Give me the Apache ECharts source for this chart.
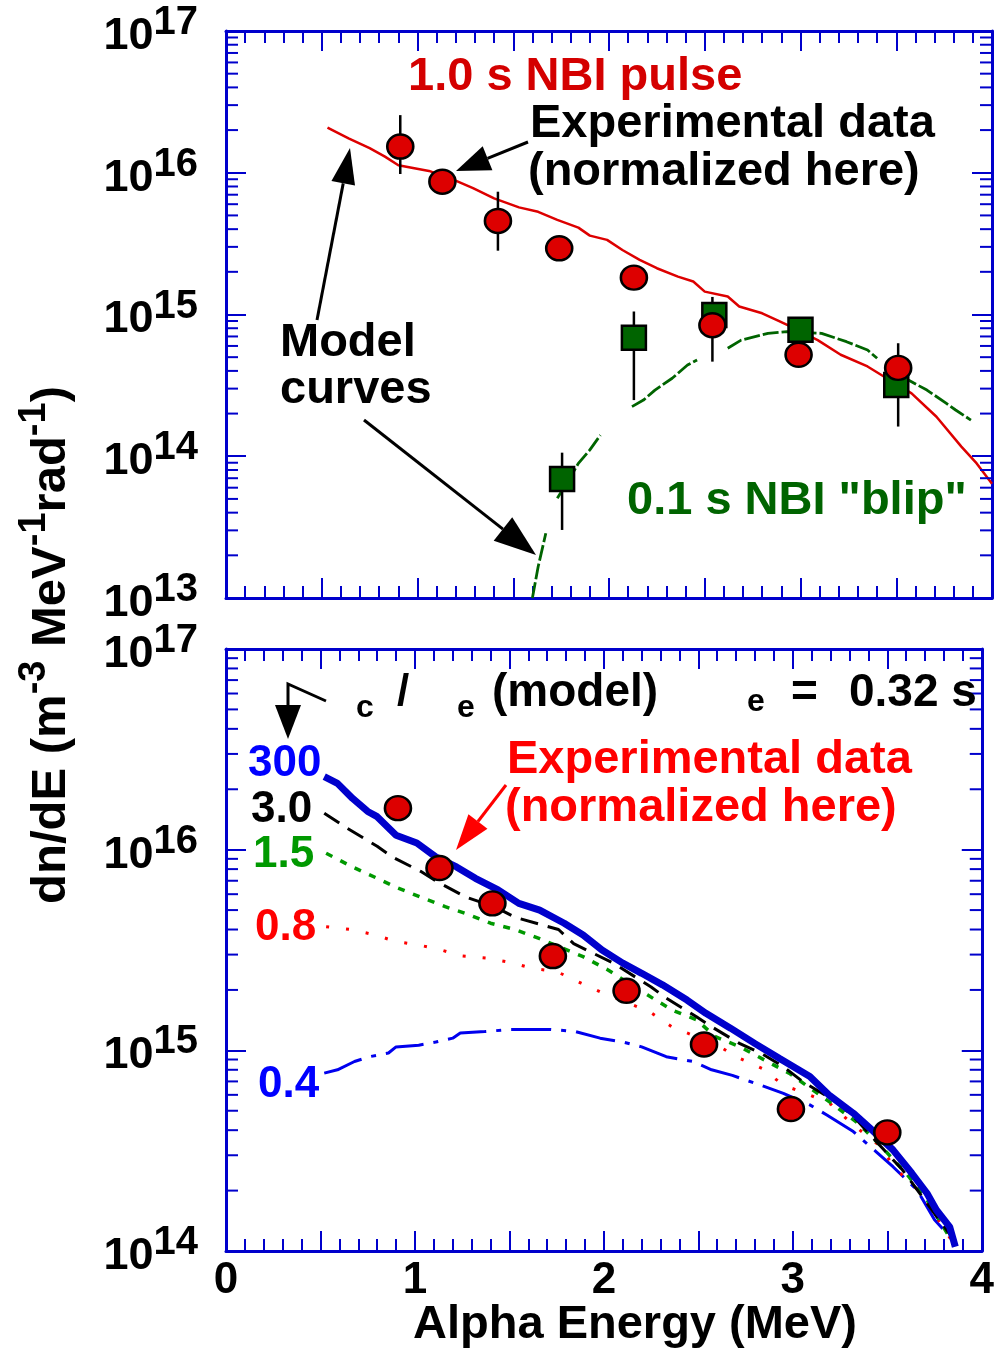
<!DOCTYPE html>
<html>
<head>
<meta charset="utf-8">
<title>Alpha energy spectra</title>
<script src="https://cdn.jsdelivr.net/npm/echarts@6/dist/echarts.min.js"></script>
<style>
  html, body { margin: 0; padding: 0; background: #fff; }
  #chart { width: 997px; height: 1349px; }
</style>
</head>
<body>
<div id="chart"></div>
<script>
// ---- top panel: 1.0 s NBI pulse vs 0.1 s NBI blip ----
const pulseE = [0.53, 0.64, 0.75, 0.83, 0.90, 1.06, 1.19, 1.29, 1.40, 1.53, 1.63, 1.73, 1.84, 1.90, 1.99, 2.07, 2.16, 2.25, 2.36, 2.44, 2.50, 2.62, 2.68, 2.80, 2.88, 2.95, 3.09, 3.21, 3.35, 3.45, 3.58, 3.71, 3.84, 3.92, 4.0]
const pulseN = [2.08e16, 1.75e16, 1.49e16, 1.30e16, 1.13e16, 1.03e16, 8.9e15, 7.8e15, 6.6e15, 5.7e15, 5.3e15, 4.65e15, 4.1e15, 3.6e15, 3.36e15, 2.85e15, 2.43e15, 2.12e15, 1.85e15, 1.71e15, 1.45e15, 1.34e15, 1.14e15, 1.02e15, 9.1e14, 8.2e14, 6.6e14, 5.2e14, 4.3e14, 3.55e14, 2.78e14, 1.9e14, 1.17e14, 8.9e13, 6.4e13]

// null = gap in the broken green curve
const blipE = [1.60, 1.63, 1.67, 1.70, 1.73, 1.79, 1.84, 1.90, 1.955, 2.04, 2.12, 2.18, 2.24, 2.33, 2.41, 2.46, 2.54, 2.62, 2.69, 2.83, 2.93, 3.11, 3.24, 3.35, 3.40, 3.46, 3.53, 3.66, 3.76, 3.81, 3.89]
const blipN = [1.0e13, 1.66e13, 2.86e13, null, 5.05e13, 6.8e13, 8.9e13, 1.11e14, 1.41e14, null, 2.24e14, 2.49e14, 2.93e14, 3.55e14, 4.4e14, 4.78e14, null, 5.78e14, 6.6e14, 7.36e14, 7.57e14, 7.36e14, 6.43e14, 5.62e14, 4.91e14, null, 3.65e14, 2.93e14, 2.37e14, 2.12e14, 1.8e14]

const pulseDataE = [0.91, 1.13, 1.42, 1.74, 2.13, 2.54, 2.99, 3.51]
const pulseDataN = [1.53e16, 8.65e15, 4.57e15, 2.93e15, 1.82e15, 8.4e14, 5.2e14, 4.2e14]
const blipDataE = [1.755, 2.13, 2.55, 3.00, 3.50]
const blipDataN = [6.9e13, 6.85e14, 9.9e14, 7.8e14, 3.18e14]
const errE = [0.91, 1.42, 1.755, 2.13, 2.54, 3.51]
const errLo = [9.8e15, 2.82e15, 3.02e13, 2.49e14, 4.65e14, 1.62e14]
const errHi = [2.55e16, 7.35e15, 1.06e14, 1.05e15, 1.33e15, 6.27e14]

// ---- bottom panel: model curves for tau_c / tau_e ----
const m300E = [0.52, 0.59, 0.67, 0.75, 0.80, 0.90, 1.01, 1.11, 1.22, 1.32, 1.44, 1.55, 1.66, 1.79, 1.89, 1.99, 2.10, 2.20, 2.31, 2.44, 2.54, 2.67, 2.80, 2.93, 3.09, 3.19, 3.32, 3.42, 3.53, 3.63, 3.71, 3.76, 3.83, 3.86]
const m300N = [2.31e16, 2.14e16, 1.80e16, 1.55e16, 1.46e16, 1.18e16, 1.08e16, 9.2e15, 8.2e15, 7.2e15, 6.3e15, 5.4e15, 5.0e15, 4.3e15, 3.76e15, 3.16e15, 2.72e15, 2.42e15, 2.12e15, 1.78e15, 1.53e15, 1.29e15, 1.08e15, 9.1e14, 7.4e14, 6.0e14, 4.86e14, 4.0e14, 3.19e14, 2.44e14, 1.94e14, 1.6e14, 1.32e14, 1.05e14]
const m30E = [0.52, 0.64, 0.80, 0.88, 1.03, 1.12, 1.27, 1.42, 1.53, 1.76, 1.84, 2.05, 2.25, 2.33, 2.49, 2.57, 2.72, 2.83, 2.95, 3.06, 3.21, 3.32, 3.45, 3.58, 3.71, 3.84]
const m30N = [1.52e16, 1.28e16, 1.04e16, 9.2e15, 7.8e15, 6.9e15, 5.8e15, 5.2e15, 4.6e15, 4.0e15, 3.4e15, 2.72e15, 2.07e15, 1.82e15, 1.47e15, 1.31e15, 1.08e15, 9.7e14, 8.3e14, 6.9e14, 5.7e14, 4.7e14, 3.44e14, 2.54e14, 1.73e14, 1.18e14]
const m15E = [0.53, 0.67, 0.80, 0.90, 1.03, 1.16, 1.27, 1.40, 1.53, 1.66, 1.89, 2.02, 2.23, 2.36, 2.49, 2.59, 2.72, 2.85, 2.98, 3.09, 3.21, 3.35, 3.47, 3.60, 3.71, 3.84]
const m15N = [9.6e15, 8.2e15, 7.2e15, 6.5e15, 5.8e15, 5.2e15, 4.8e15, 4.3e15, 4.0e15, 3.6e15, 2.93e15, 2.52e15, 1.89e15, 1.59e15, 1.42e15, 1.17e15, 1.04e15, 8.95e14, 7.7e14, 6.5e14, 5.4e14, 4.3e14, 3.3e14, 2.44e14, 1.8e14, 1.13e14]
const m08E = [0.53, 0.66, 0.79, 0.90, 1.02, 1.14, 1.25, 1.38, 1.51, 1.62, 1.75, 1.88, 1.98, 2.11, 2.24, 2.36, 2.47, 2.60, 2.72, 2.84, 2.95, 3.07, 3.20, 3.32, 3.45, 3.55, 3.68, 3.77, 3.85]
const m08N = [4.13e15, 4.0e15, 3.76e15, 3.48e15, 3.35e15, 3.16e15, 2.95e15, 2.88e15, 2.74e15, 2.56e15, 2.47e15, 2.16e15, 1.96e15, 1.75e15, 1.56e15, 1.31e15, 1.19e15, 1.06e15, 9.1e14, 8.1e14, 6.7e14, 6.1e14, 5.4e14, 4.25e14, 3.4e14, 2.54e14, 1.94e14, 1.43e14, 1.09e14]
const m04E = [0.52, 0.59, 0.68, 0.76, 0.86, 0.90, 1.02, 1.11, 1.20, 1.24, 1.37, 1.50, 1.72, 1.85, 1.98, 2.10, 2.20, 2.33, 2.47, 2.57, 2.68, 2.83, 2.95, 3.09, 3.18, 3.32, 3.44, 3.53, 3.66, 3.75, 3.80]
const m04N = [7.7e14, 8.0e14, 8.8e14, 9.3e14, 9.7e14, 1.04e15, 1.06e15, 1.10e15, 1.15e15, 1.22e15, 1.24e15, 1.27e15, 1.27e15, 1.24e15, 1.15e15, 1.10e15, 1.04e15, 9.3e14, 8.8e14, 8.0e14, 7.5e14, 6.7e14, 6.1e14, 5.35e14, 4.76e14, 3.94e14, 3.13e14, 2.63e14, 2.0e14, 1.43e14, 1.27e14]
const expE = [0.91, 1.13, 1.41, 1.73, 2.12, 2.53, 2.99, 3.50]
const expN = [1.61e16, 8.1e15, 5.4e15, 2.95e15, 1.98e15, 1.07e15, 5.1e14, 3.9e14]

const FONT = 'Liberation Sans, Arial, sans-serif'
const FRAME = '#0000cc'

function zip(xs, ys) {
  return xs.map(function (x, i) { return [x, ys[i] === null ? '-' : ys[i]] })
}

// 2..9 x 10^n positions for the minor ticks of the log axes
function minorTicks(lo, hi) {
  let out = []
  for (let n = lo; n < hi; n++) {
    for (let k = 2; k <= 9; k++) out.push([0, k * Math.pow(10, n)])
  }
  return out
}

function xAxisFor(grid, pos, labels) {
  return {
    type: 'value', gridIndex: grid, position: pos, min: 0, max: 4, interval: 0.5,
    axisLine: { show: true, onZero: false, lineStyle: { color: FRAME, width: 3 } },
    axisTick: { show: true, inside: true, length: 20, lineStyle: { color: FRAME, width: 2 } },
    minorTick: { show: true, splitNumber: 5, length: 12, lineStyle: { color: FRAME, width: 2 } },
    splitLine: { show: false },
    axisLabel: {
      show: labels, interval: 0, margin: 8, color: '#000', fontFamily: FONT, fontWeight: 'bold', fontSize: 44,
      alignMinLabel: 'center', alignMaxLabel: 'center',
      formatter: function (v) { return Math.abs(v - Math.round(v)) < 1e-9 ? String(Math.round(v)) : '' }
    }
  }
}

function logAxisFor(grid, pos, min, labels) {
  return {
    type: 'log', logBase: 10, gridIndex: grid, position: pos, min: min, max: 1e17,
    axisLine: { show: true, onZero: false, lineStyle: { color: FRAME, width: 3 } },
    axisTick: { show: true, inside: true, length: 20, lineStyle: { color: FRAME, width: 2 } },
    splitLine: { show: false },
    axisLabel: {
      show: labels, margin: 28,
      formatter: function (v) { return '{h|\u200b}{b|10}{s|' + Math.round(Math.log10(v)) + '}' },
      rich: {
        h: { fontSize: 10, lineHeight: 56 },
        b: { fontFamily: FONT, fontWeight: 'bold', fontSize: 45, color: '#000', verticalAlign: 'bottom', lineHeight: 45 },
        s: { fontFamily: FONT, fontWeight: 'bold', fontSize: 40, color: '#000', verticalAlign: 'top', lineHeight: 40 }
      }
    }
  }
}

function minorTickSeries(xi, yi, lo) {
  return {
    type: 'custom', xAxisIndex: xi, yAxisIndex: yi, z: 6, clip: false, silent: true,
    data: minorTicks(lo, 17),
    encode: { x: 0, y: 1 },
    renderItem: function (params, api) {
      const cs = params.coordSys
      const p = api.coord([api.value(0), api.value(1)])
      const st = { stroke: FRAME, lineWidth: 2 }
      return {
        type: 'group', children: [
          { type: 'line', shape: { x1: cs.x, y1: p[1], x2: cs.x + 12, y2: p[1] }, style: st },
          { type: 'line', shape: { x1: cs.x + cs.width - 12, y1: p[1], x2: cs.x + cs.width, y2: p[1] }, style: st }
        ]
      }
    }
  }
}

function txt(str, x, y, size, color) {
  return {
    type: 'text', x: x, y: y, z: 100, silent: true,
    style: { text: str, font: 'bold ' + size + 'px ' + FONT, fill: color, textAlign: 'left', textVerticalAlign: 'middle' }
  }
}

function arrow(x1, y1, x2, y2, len, w, color, lw) {
  const a = Math.atan2(y2 - y1, x2 - x1)
  const bx = x2 - len * Math.cos(a), by = y2 - len * Math.sin(a)
  const px = -Math.sin(a) * w / 2, py = Math.cos(a) * w / 2
  return [
    { type: 'line', z: 100, silent: true, shape: { x1: x1, y1: y1, x2: bx, y2: by }, style: { stroke: color, lineWidth: lw } },
    { type: 'polygon', z: 100, silent: true, shape: { points: [[x2, y2], [bx + px, by + py], [bx - px, by - py]] }, style: { fill: color } }
  ]
}

function errorBars(xi, yi, E, lo, hi) {
  return {
    type: 'custom', xAxisIndex: xi, yAxisIndex: yi, z: 3,
    data: E.map(function (e, i) { return [e, lo[i], hi[i]] }),
    encode: { x: 0, y: [1, 2] },
    renderItem: function (params, api) {
      const p1 = api.coord([api.value(0), api.value(1)])
      const p2 = api.coord([api.value(0), api.value(2)])
      return { type: 'line', shape: { x1: p1[0], y1: p1[1], x2: p2[0], y2: p2[1] }, style: { stroke: '#000', lineWidth: 2.5 } }
    }
  }
}

function curve(xi, yi, data, color, width, type) {
  return {
    type: 'line', xAxisIndex: xi, yAxisIndex: yi, data: data, showSymbol: false, connectNulls: false, z: 2,
    lineStyle: { color: color, width: width, type: type }
  }
}

let graphics = []
graphics.push(txt('1.0 s NBI pulse', 408, 77, 47, '#d40000'))
graphics.push(txt('Experimental data', 530, 124, 47, '#000'))
graphics.push(txt('(normalized here)', 528, 172, 47, '#000'))
graphics.push(txt('Model', 280, 343, 47, '#000'))
graphics.push(txt('curves', 280, 390, 47, '#000'))
graphics.push(txt('0.1 s NBI "blip"', 627, 501, 47, '#006400'))
graphics = graphics.concat(arrow(528, 142, 456, 171, 34, 26, '#000', 3))
graphics = graphics.concat(arrow(317, 320, 350, 148, 36, 24, '#000', 3))
graphics = graphics.concat(arrow(364, 420, 536, 555, 42, 30, '#000', 3))

graphics.push(txt('c', 356, 708, 32, '#000'))
graphics.push(txt('/', 397, 693, 44, '#000'))
graphics.push(txt('e', 457, 708, 32, '#000'))
graphics.push(txt('(model)', 492, 693, 46, '#000'))
graphics.push(txt('e', 747, 702, 32, '#000'))
graphics.push(txt('=', 791, 693, 46, '#000'))
graphics.push(txt('0.32 s', 849, 693, 46, '#000'))
graphics.push(txt('Experimental data', 507, 760, 47, '#ff0000'))
graphics.push(txt('(normalized here)', 505, 808, 47, '#ff0000'))
graphics.push(txt('300', 248, 764, 44, '#0000ff'))
graphics.push(txt('3.0', 251, 810, 44, '#000'))
graphics.push(txt('1.5', 253, 855, 44, '#009900'))
graphics.push(txt('0.8', 255, 928, 44, '#ff0000'))
graphics.push(txt('0.4', 258, 1085, 44, '#0000ff'))
graphics = graphics.concat(arrow(506, 785, 456, 850, 36, 24, '#ff0000', 3))
graphics.push({ type: 'polyline', z: 100, silent: true, shape: { points: [[326, 701], [288, 684], [288, 708]] }, style: { stroke: '#000', lineWidth: 3, fill: null } })
graphics.push({ type: 'polygon', z: 100, silent: true, shape: { points: [[288, 739], [275, 705], [301, 705]] }, style: { fill: '#000' } })

graphics.push({
  type: 'text', x: 635, y: 1325, z: 100, silent: true,
  style: { text: 'Alpha Energy (MeV)', font: 'bold 47px ' + FONT, fill: '#000', textAlign: 'center', textVerticalAlign: 'middle' }
})
graphics.push({
  type: 'text', x: 46, y: 645, rotation: Math.PI / 2, z: 100, silent: true,
  style: {
    text: '{h|\u200b}{m|dn/dE (m}{s|-3}{m| MeV}{s|-1}{m|rad}{s|-1}{m|)}',
    textAlign: 'center', textVerticalAlign: 'middle',
    rich: {
      h: { fontSize: 10, lineHeight: 60 },
      m: { fontFamily: FONT, fontWeight: 'bold', fontSize: 49, fill: '#000', verticalAlign: 'bottom', lineHeight: 48 },
      s: { fontFamily: FONT, fontWeight: 'bold', fontSize: 38, fill: '#000', verticalAlign: 'top', lineHeight: 38 }
    }
  }
})

const markerStyle = function (fill) {
  return { color: fill, opacity: 1, borderColor: '#000', borderWidth: 2.5 }
}

const chart = echarts.init(document.getElementById('chart'))
chart.setOption({
  animation: false,
  backgroundColor: '#fff',
  textStyle: { fontFamily: FONT },
  grid: [
    { left: 226, top: 31, width: 766, height: 567 },
    { left: 226, top: 649, width: 766, height: 602 }
  ],
  xAxis: [
    xAxisFor(0, 'bottom', false),
    xAxisFor(0, 'top', false),
    xAxisFor(1, 'bottom', true),
    xAxisFor(1, 'top', false)
  ],
  yAxis: [
    logAxisFor(0, 'left', 1e13, true),
    logAxisFor(0, 'right', 1e13, false),
    logAxisFor(1, 'left', 1e14, true),
    logAxisFor(1, 'right', 1e14, false)
  ],
  graphic: graphics,
  series: [
    minorTickSeries(0, 0, 13),
    curve(0, 0, zip(pulseE, pulseN), '#dd0000', 2.5, 'solid'),
    curve(0, 0, zip(blipE, blipN), '#006400', 2.8, [16, 3]),
    errorBars(0, 0, errE, errLo, errHi),
    {
      type: 'scatter', xAxisIndex: 0, yAxisIndex: 0, z: 4, data: zip(blipDataE, blipDataN),
      symbol: 'rect', symbolSize: 24, itemStyle: markerStyle('#006400')
    },
    {
      type: 'scatter', xAxisIndex: 0, yAxisIndex: 0, z: 5, data: zip(pulseDataE, pulseDataN),
      symbol: 'circle', symbolSize: [26, 24], itemStyle: markerStyle('#dd0000')
    },

    minorTickSeries(2, 2, 14),
    curve(2, 2, zip(m04E, m04N), '#0000ee', 3, [40, 10, 5, 10]),
    curve(2, 2, zip(m08E, m08N), '#ff0000', 3, [3, 17]),
    curve(2, 2, zip(m15E, m15N), '#009900', 3.5, [7, 9]),
    curve(2, 2, zip(m30E, m30N), '#000', 3, [18, 10]),
    curve(2, 2, zip(m300E, m300N), '#0000cc', 7, 'solid'),
    {
      type: 'scatter', xAxisIndex: 2, yAxisIndex: 2, z: 5, data: zip(expE, expN),
      symbol: 'circle', symbolSize: [26, 24], itemStyle: markerStyle('#dd0000')
    }
  ]
})
</script>
</body>
</html>
